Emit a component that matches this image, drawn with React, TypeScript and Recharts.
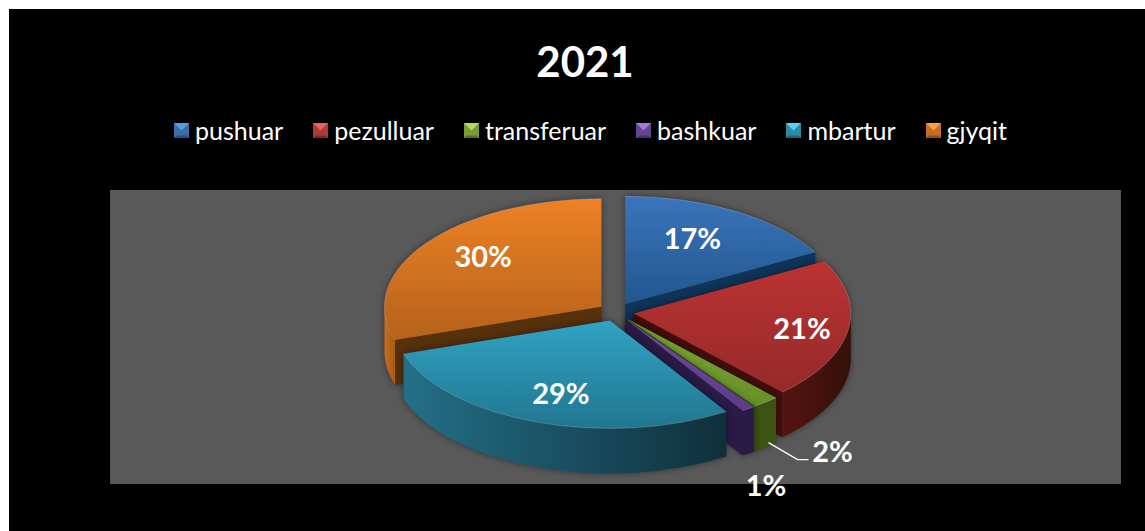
import React from "react";
import { PieChart, Pie, Legend } from "recharts";

const title = "2021";
const categories = ["pushuar", "pezulluar", "transferuar", "bashkuar", "mbartur", "gjyqit"];
const seriesValues = [17, 21, 2, 1, 29, 30];
// painter's order of the slices: back to front
const drawOrder = [5, 0, 1, 2, 3, 4];

const topColors = [
  ["#3a74bb", "#21578f"],
  ["#bb3333", "#96292a"],
  ["#7aa531", "#67902a"],
  ["#6f4da0", "#5b3c88"],
  ["#31a3c4", "#21768f"],
  ["#ee8125", "#b4621b"],
];
const wallColors = [
  ["#123a60", "#123a60"],
  ["#541411", "#351009"],
  ["#3c5212", "#3c5212"],
  ["#2a1a46", "#2a1a46"],
  ["#237088", "#102f3b"],
  ["#c76d1e", "#a85a16"],
];
const cutColors = ["#0f3459", "#420f0b", "#3c5212", "#2a1a46", "#133c4c", "#57300c"];
const iconColors = [
  ["#5a9be0", "#3a6ea8", "#264f80"],
  ["#e86060", "#b03a3a", "#7c2725"],
  ["#b4dc5a", "#7a9c36", "#566f26"],
  ["#a27ad0", "#634590", "#47316a"],
  ["#5cd0ee", "#2b8aa6", "#1d6379"],
  ["#f7a04a", "#c5701f", "#8c4f16"],
];
// label anchor in units of the ellipse radii, from the slice apex
const labelAnchors = [
  [0.31, -0.62],
  [0.775, 0.13],
  [0.945, 1.22],
  [0.645, 1.53],
  [-0.226, 0.67],
  [-0.545, -0.47],
];

const RX = 217;
const RY = 108;
const DEPTH = 45;
const EXPLODE = 18;

const tableData = drawOrder.map((i) => ({
  name: categories[i],
  value: seriesValues[i],
  source: i,
}));

const apexOf = (cx: number, cy: number, mid: number) => {
  const a = (mid * Math.PI) / 180;
  return [cx + EXPLODE * Math.cos(a), cy - (EXPLODE * Math.sin(a) * RY) / RX];
};

const Slice3D = (props: any) => {
  const { cx, cy, startAngle, endAngle, source, payload } = props;
  const idx = source ?? payload?.source ?? 0;
  const mid = (startAngle + endAngle) / 2;
  const [ax, ay] = apexOf(cx, cy, mid);
  // t = degrees clockwise from 12 o'clock, normalised to 0..360
  let ts = 90 - startAngle;
  let te = 90 - endAngle;
  while (ts >= 360) {
    ts -= 360;
    te -= 360;
  }
  const pt = (t: number, d = 0) => {
    const r = (t * Math.PI) / 180;
    return [ax + RX * Math.sin(r), ay - RY * Math.cos(r) + d];
  };
  const s = pt(ts);
  const e = pt(te);
  const large = te - ts > 180 ? 1 : 0;
  const top = `M${ax},${ay} L${s[0]},${s[1]} A${RX},${RY} 0 ${large} 1 ${e[0]},${e[1]} Z`;
  const rim = `M${s[0]},${s[1]} A${RX},${RY} 0 ${large} 1 ${e[0]},${e[1]}`;
  const quad = (p: number[]) =>
    `M${ax},${ay} L${p[0]},${p[1]} L${p[0]},${p[1] + DEPTH} L${ax},${ay + DEPTH} Z`;
  const f0 = Math.max(ts, 90);
  const f1 = Math.min(te, 270);
  let wall = "";
  if (f1 > f0) {
    const a0 = pt(f0);
    const a1 = pt(f1);
    const b0 = pt(f0, DEPTH);
    const b1 = pt(f1, DEPTH);
    wall = `M${a0[0]},${a0[1]} A${RX},${RY} 0 0 1 ${a1[0]},${a1[1]} L${b1[0]},${b1[1]} A${RX},${RY} 0 0 0 ${b0[0]},${b0[1]} Z`;
  }
  const topId = `top-${idx}`;
  const wallId = `wall-${idx}`;
  return (
    <g style={{ filter: "drop-shadow(0px 0px 3px rgba(0,0,0,0.45))" }}>
      <defs>
        <linearGradient id={topId} x1="0" y1="0" x2="0" y2="1">
          <stop offset="0" stopColor={topColors[idx][0]} />
          <stop offset="1" stopColor={topColors[idx][1]} />
        </linearGradient>
        <linearGradient id={wallId} x1="0" y1="0" x2="1" y2="0">
          <stop offset="0" stopColor={wallColors[idx][0]} />
          <stop offset="1" stopColor={wallColors[idx][1]} />
        </linearGradient>
      </defs>
      <path d={quad(s)} fill={cutColors[idx]} />
      <path d={quad(e)} fill={cutColors[idx]} />
      {wall && <path d={wall} fill={`url(#${wallId})`} />}
      <path d={top} fill={`url(#${topId})`} />
      <path d={rim} fill="none" stroke="#ffffff" strokeOpacity={0.18} strokeWidth={1} />
    </g>
  );
};

const renderLabel = (props: any) => {
  const { cx, cy, midAngle, percent, payload } = props;
  const idx = payload?.source ?? props.source ?? 0;
  const [ax, ay] = apexOf(cx, cy, midAngle);
  const x = ax + labelAnchors[idx][0] * RX;
  const y = ay + labelAnchors[idx][1] * RY;
  return (
    <g>
      {idx === 2 && (
        <polyline
          points={`${x - 64},${y - 8} ${x - 35},${y + 9} ${x - 24},${y + 9}`}
          fill="none"
          stroke="#ffffff"
          strokeWidth={1.3}
        />
      )}
      <text
        x={x}
        y={y}
        fill="#ffffff"
        textAnchor="middle"
        dominantBaseline="central"
        fontFamily="Lato"
        fontWeight={700}
        fontSize={29}
      >
        {`${Math.round(percent * 100)}%`}
      </text>
    </g>
  );
};

const LegendIcon = ({ colors }: { colors: string[] }) => (
  <svg width={15} height={15} style={{ display: "block", flex: "none" }}>
    <rect x={0} y={0} width={15} height={15} fill={colors[1]} />
    <polygon points="0,0 15,0 7.5,7.5" fill={colors[0]} />
    <polygon points="0,15 15,15 12.5,12.5 2.5,12.5" fill={colors[2]} />
  </svg>
);

const renderLegend = () => (
  <div
    style={{
      display: "flex",
      alignItems: "center",
      fontFamily: "Lato",
      fontSize: 25,
      lineHeight: "30px",
      color: "#ffffff",
      whiteSpace: "nowrap",
    }}
  >
    {categories.map((name, i) => (
      <div key={name} style={{ display: "flex", alignItems: "center", marginRight: 30 }}>
        <LegendIcon colors={iconColors[i]} />
        <span style={{ marginLeft: 6 }}>{name}</span>
      </div>
    ))}
  </div>
);

export default function App() {
  return (
    <div style={{ position: "absolute", left: 9, top: 9, width: 1136, height: 522, background: "#000" }}>
      <PieChart width={1136} height={522} margin={{ top: 0, right: 0, bottom: 0, left: 0 }}>
        <rect x={101} y={181} width={1011} height={294} fill="#595959" />
        <text
          x={576}
          y={52}
          fill="#ffffff"
          textAnchor="middle"
          dominantBaseline="central"
          fontFamily="Lato"
          fontWeight={700}
          fontSize={42}
        >
          {title}
        </text>
        <Legend
          content={renderLegend}
          verticalAlign="bottom"
          wrapperStyle={{ left: 165, top: 106, bottom: "auto", width: 900 }}
        />
        <Pie
          data={tableData}
          dataKey="value"
          nameKey="name"
          cx={607}
          cy={303}
          innerRadius={0}
          outerRadius={217}
          startAngle={-162}
          endAngle={-522}
          stroke="none"
          isAnimationActive={false}
          shape={Slice3D}
          label={renderLabel}
          labelLine={false}
        />
      </PieChart>
    </div>
  );
}
